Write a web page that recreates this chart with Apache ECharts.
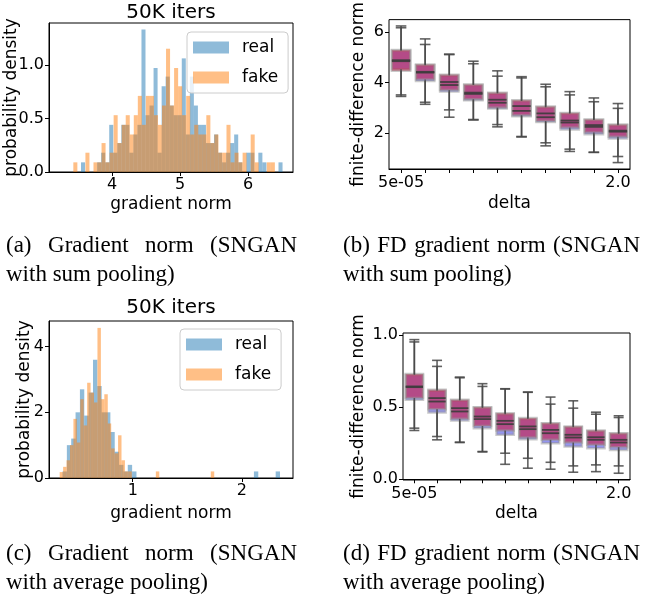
<!DOCTYPE html>
<html>
<head>
<meta charset="utf-8">
<script src="https://cdn.jsdelivr.net/npm/echarts@6/dist/echarts.min.js"></script>
</head>
<body style="margin:0;background:#fff">
<div id="chart" style="width:647px;height:605px"></div>
<script>
// ---- values ----
// (a) gradient norm histogram, sum pooling (density per bin)
var sumRealStart = 3.541, sumFakeStart = 3.428, sumBinWidth = 0.0593;
var sumReal = [0.09,0,0,0,0.09,0.18,0.09,0.44,0.18,0.27,
               0.44,0.44,0.18,0.35,0.44,1.33,0.53,0.62,0.97,0.18,
               0.80,0.89,0.62,0.53,0.53,1.06,0.35,0.89,0.62,0.44,
               0.44,0.27,0.27,0.35,0.18,0.09,0.18,0.27,0.35,0.09,
               0,0.18,0.18,0,0.18,0.09,0,0,0,0.09];
var sumFake = [0.09,0,0,0.18,0,0.09,0.09,0.27,0.09,0.18,
               0.53,0.27,0.44,0.53,0.35,0.53,0.71,0.44,0.71,0.71,
               0.53,0.44,0.62,1.15,0.62,0.97,0.80,0.53,0.71,0.35,
               0.44,0.35,0.35,0.53,0.27,0.35,0.18,0.18,0.44,0.09,
               0.18,0.09,0.18,0,0.35,0.09,0,0,0.09,0.09];

// (c) gradient norm histogram, average pooling
var avgRealStart = 0.356, avgRealWidth = 0.0399;
var avgFakeStart = 0.33, avgFakeWidth = 0.0315;
var avgReal = [0.2,1.0,1.2,2.0,2.7,1.9,2.6,3.6,2.8,2.0,
               2.0,1.4,0.8,0.4,0.2,0.4,0.2,0,0,0,
               0,0,0,0,0,0,0,0,0,0,
               0,0,0,0,0,0,0,0,0,0,
               0,0,0,0,0.2,0,0,0,0,0.2];
var avgFake = [0.18,0.34,0.54,1.0,1.8,1.08,2.4,1.6,2.9,2.6,
               2.3,4.57,2.4,2.55,1.66,0.9,0.75,1.3,0.54,0.2,
               0.2,0,0,0,0,0,0,0,0.2,0,
               0,0,0,0,0,0,0,0,0,0,
               0,0,0,0,0.2];

// (b)/(d) finite-difference norm, [min, q1, median, q3, max] per delta
var deltaTicks = ['5e-05','','','','','','','','','2.0'];
var fdSumRed = [[3.45,4.46,4.88,5.28,6.23],[3.22,4.12,4.42,4.71,5.50],[2.92,3.70,4.02,4.31,5.12],
                [2.54,3.34,3.60,3.92,4.74],[2.25,3.01,3.32,3.60,4.46],[1.87,2.71,3.07,3.30,4.23],
                [1.50,2.48,2.78,3.05,3.83],[1.28,2.22,2.50,2.80,3.64],[1.24,2.03,2.32,2.54,3.39],
                [1.08,1.86,2.10,2.34,3.17]];
var fdSumBlue = [[3.51,4.52,4.84,5.25,6.16],[3.14,4.06,4.39,4.68,5.72],[2.63,3.64,3.90,4.28,5.10],
                 [2.52,3.30,3.55,3.90,4.84],[2.34,2.97,3.20,3.57,4.25],[1.85,2.67,2.88,3.27,4.18],
                 [1.62,2.44,2.63,3.02,3.93],[1.37,2.15,2.42,2.77,3.51],[1.25,1.96,2.25,2.52,3.24],
                 [0.84,1.79,2.06,2.31,2.98]];
var fdAvgRed = [[0.339,0.565,0.645,0.731,0.970],[0.297,0.487,0.564,0.622,0.784],[0.258,0.420,0.494,0.552,0.710],
                [0.193,0.370,0.436,0.501,0.645],[0.181,0.339,0.406,0.459,0.629],[0.146,0.290,0.367,0.425,0.606],
                [0.118,0.274,0.343,0.390,0.522],[0.093,0.255,0.309,0.367,0.494],[0.100,0.239,0.292,0.339,0.466],
                [0.093,0.223,0.274,0.320,0.441]];
var fdAvgBlue = [[0.355,0.552,0.640,0.725,0.954],[0.274,0.464,0.540,0.615,0.826],[0.255,0.408,0.471,0.548,0.705],
                 [0.190,0.355,0.418,0.496,0.664],[0.104,0.309,0.383,0.452,0.627],[0.077,0.278,0.348,0.418,0.604],
                 [0.070,0.251,0.320,0.385,0.571],[0.049,0.227,0.290,0.362,0.545],[0.053,0.216,0.274,0.334,0.452],
                 [0.042,0.204,0.255,0.316,0.429]];

var FONT = 'DejaVu Sans';
var SERIF = 'Liberation Serif';
var BLUE = 'rgba(31,119,180,0.5)', ORANGE = 'rgba(255,127,14,0.5)';

function bins(start, width, heights) {
    return heights.map(function (h, i) {
        return [start + i * width, start + (i + 1) * width, h];
    });
}
function boxRows(rows) {
    return rows.map(function (r, i) { return [i].concat(r); });
}

function renderBar(params, api) {
    var p0 = api.coord([api.value(0), api.value(2)]);
    var p1 = api.coord([api.value(1), 0]);
    return {
        type: 'rect',
        shape: { x: p0[0], y: p0[1], width: p1[0] - p0[0], height: p1[1] - p0[1] },
        style: { fill: api.visual('color') }
    };
}

function boxRender(mode) {
    return function (params, api) {
        var i = api.value(0);
        var lo = api.coord([i, api.value(1)]);
        var q1 = api.coord([i, api.value(2)]);
        var md = api.coord([i, api.value(3)]);
        var q3 = api.coord([i, api.value(4)]);
        var hi = api.coord([i, api.value(5)]);
        var band = api.size([1, 0])[0];
        var cx = md[0];
        if (mode === 'box') {
            var w = band * 0.76;
            return {
                type: 'rect',
                shape: { x: cx - w / 2, y: q3[1], width: w, height: q1[1] - q3[1] },
                style: { fill: api.visual('color'), stroke: 'rgba(150,150,150,0.5)', lineWidth: 2.5 }
            };
        }
        var c = band * 0.22, m = band * 0.38;
        var ls = { stroke: 'rgba(70,70,70,0.85)', lineWidth: 1.6 };
        return {
            type: 'group',
            children: [
                { type: 'line', shape: { x1: cx, y1: q3[1], x2: cx, y2: hi[1] }, style: ls },
                { type: 'line', shape: { x1: cx, y1: q1[1], x2: cx, y2: lo[1] }, style: ls },
                { type: 'line', shape: { x1: cx - c, y1: hi[1], x2: cx + c, y2: hi[1] }, style: ls },
                { type: 'line', shape: { x1: cx - c, y1: lo[1], x2: cx + c, y2: lo[1] }, style: ls },
                { type: 'line', shape: { x1: cx - m, y1: md[1], x2: cx + m, y2: md[1] }, style: { stroke: 'rgba(60,60,60,0.9)', lineWidth: 1.8 } }
            ]
        };
    };
}

var tickFont = { fontSize: 16, fontFamily: FONT, color: '#000' };
var nameFont = { fontSize: 17, fontFamily: FONT, color: '#000' };
var axisLine = { lineStyle: { color: '#000', width: 1 } };
var tickLine = { color: '#000', width: 1 };

function valueAxis(gi, min, max, ticks, digits, name, gap) {
    return {
        type: 'value', gridIndex: gi, min: min, max: max, z: 5,
        name: name, nameLocation: 'middle', nameGap: gap, nameMoveOverlap: false, nameTextStyle: nameFont,
        axisLine: axisLine, splitLine: { show: false },
        axisTick: { show: true, length: 4, lineStyle: tickLine, customValues: ticks },
        axisLabel: Object.assign({ customValues: ticks, margin: 5, formatter: function (v) { return v.toFixed(digits); } }, tickFont)
    };
}
function deltaAxis(gi, gap) {
    return {
        type: 'category', gridIndex: gi, z: 5,
        data: deltaTicks.map(function (t, i) { return String(i); }),
        name: 'delta', nameLocation: 'middle', nameGap: gap, nameMoveOverlap: false, nameTextStyle: nameFont,
        axisLine: axisLine, splitLine: { show: false },
        axisTick: { show: true, alignWithLabel: true, interval: 0, length: 4, lineStyle: tickLine },
        axisLabel: Object.assign({ interval: 0, margin: 6, formatter: function (v, i) { return deltaTicks[i]; } }, tickFont)
    };
}

// captions, line 1 spread to the column width like the justified LaTeX text
var measureCtx = document.createElement('canvas').getContext('2d');
function justify(words, x0, x1, y) {
    measureCtx.font = '23px "' + SERIF + '"';
    var widths = words.map(function (w) { return measureCtx.measureText(w).width; });
    var total = widths.reduce(function (a, b) { return a + b; }, 0);
    var gap = (x1 - x0 - total) / (words.length - 1);
    var x = x0, out = [];
    words.forEach(function (w, i) {
        out.push(textEl(w, x, y, 'left'));
        x += widths[i] + gap;
    });
    return out;
}
function textEl(t, x, y, align, size, family) {
    return {
        type: 'text', x: x, y: y,
        style: {
            text: t, fill: '#000', fontSize: size || 23, fontFamily: family || SERIF,
            align: align, textAlign: align, verticalAlign: 'middle', textVerticalAlign: 'middle'
        }
    };
}

var graphics = []
    .concat(justify(['(a)', 'Gradient', 'norm', '(SNGAN'], 6, 297, 246))
    .concat([textEl('with sum pooling)', 6, 275, 'left')])
    .concat(justify(['(b)', 'FD', 'gradient', 'norm', '(SNGAN'], 343, 640, 246))
    .concat([textEl('with sum pooling)', 343, 275, 'left')])
    .concat(justify(['(c)', 'Gradient', 'norm', '(SNGAN'], 6, 297, 554))
    .concat([textEl('with average pooling)', 6, 583, 'left')])
    .concat(justify(['(d)', 'FD', 'gradient', 'norm', '(SNGAN'], 343, 640, 554))
    .concat([textEl('with average pooling)', 343, 583, 'left')])
    .concat([textEl('50K iters', 171, 13, 'center', 20, FONT), textEl('50K iters', 171, 308, 'center', 20, FONT)]);

function legendAt(left, top) {
    return {
        left: left, top: top, orient: 'vertical', data: ['real', 'fake'], icon: 'rect',
        itemWidth: 36, itemHeight: 12, itemGap: 13, padding: [7, 10, 7, 6],
        borderColor: '#cccccc', borderWidth: 1, borderRadius: 4, backgroundColor: 'rgba(255,255,255,0.8)',
        itemStyle: { borderWidth: 0 }, selectedMode: false,
        textStyle: { fontSize: 17, fontFamily: FONT, color: '#000', padding: [0, 0, 0, 8] }
    };
}

var grid = { show: true, borderColor: '#000', borderWidth: 1, backgroundColor: '#fff' };
var chart = echarts.init(document.getElementById('chart'), null, { renderer: 'canvas' });
chart.setOption({
    animation: false,
    backgroundColor: '#fff',
    grid: [
        Object.assign({ left: 49, top: 23, width: 244, height: 149 }, grid),
        Object.assign({ left: 389, top: 13, width: 241, height: 156 }, grid),
        Object.assign({ left: 49, top: 321, width: 244, height: 157 }, grid),
        Object.assign({ left: 403, top: 333, width: 227, height: 147 }, grid)
    ],
    xAxis: [
        valueAxis(0, 3.07, 6.66, [4, 5, 6], 0, 'gradient norm', 24),
        deltaAxis(1, 26),
        valueAxis(2, 0.232, 2.47, [1, 2], 0, 'gradient norm', 27),
        deltaAxis(3, 25)
    ],
    yAxis: [
        valueAxis(0, 0, 1.39, [0, 0.5, 1.0], 1, 'probability density', 29),
        valueAxis(1, 0.587, 6.48, [2, 4, 6], 0, 'finite-difference norm', 22),
        valueAxis(2, 0, 4.78, [0, 2, 4], 0, 'probability density', 16),
        valueAxis(3, -0.005, 1.016, [0, 0.5, 1.0], 1, 'finite-difference norm', 36)
    ],
    legend: [legendAt(187, 32), legendAt(180, 329)],
    series: [
        { name: 'real', type: 'custom', xAxisIndex: 0, yAxisIndex: 0, renderItem: renderBar, itemStyle: { color: BLUE },
          encode: { x: [0, 1], y: 2 }, data: bins(sumRealStart, sumBinWidth, sumReal) },
        { name: 'fake', type: 'custom', xAxisIndex: 0, yAxisIndex: 0, renderItem: renderBar, itemStyle: { color: ORANGE },
          encode: { x: [0, 1], y: 2 }, data: bins(sumFakeStart, sumBinWidth, sumFake) },
        { name: 'real', type: 'custom', xAxisIndex: 2, yAxisIndex: 2, renderItem: renderBar, itemStyle: { color: BLUE },
          encode: { x: [0, 1], y: 2 }, data: bins(avgRealStart, avgRealWidth, avgReal) },
        { name: 'fake', type: 'custom', xAxisIndex: 2, yAxisIndex: 2, renderItem: renderBar, itemStyle: { color: ORANGE },
          encode: { x: [0, 1], y: 2 }, data: bins(avgFakeStart, avgFakeWidth, avgFake) },

        { type: 'custom', xAxisIndex: 1, yAxisIndex: 1, renderItem: boxRender('box'), itemStyle: { color: 'rgba(60,60,230,0.55)' },
          encode: { x: 0, y: [1, 2, 3, 4, 5] }, data: boxRows(fdSumBlue) },
        { type: 'custom', xAxisIndex: 1, yAxisIndex: 1, renderItem: boxRender('box'), itemStyle: { color: 'rgba(200,30,70,0.62)' },
          encode: { x: 0, y: [1, 2, 3, 4, 5] }, data: boxRows(fdSumRed) },
        { type: 'custom', xAxisIndex: 1, yAxisIndex: 1, renderItem: boxRender('lines'),
          encode: { x: 0, y: [1, 2, 3, 4, 5] }, data: boxRows(fdSumBlue) },
        { type: 'custom', xAxisIndex: 1, yAxisIndex: 1, renderItem: boxRender('lines'),
          encode: { x: 0, y: [1, 2, 3, 4, 5] }, data: boxRows(fdSumRed) },

        { type: 'custom', xAxisIndex: 3, yAxisIndex: 3, renderItem: boxRender('box'), itemStyle: { color: 'rgba(60,60,230,0.55)' },
          encode: { x: 0, y: [1, 2, 3, 4, 5] }, data: boxRows(fdAvgBlue) },
        { type: 'custom', xAxisIndex: 3, yAxisIndex: 3, renderItem: boxRender('box'), itemStyle: { color: 'rgba(200,30,70,0.62)' },
          encode: { x: 0, y: [1, 2, 3, 4, 5] }, data: boxRows(fdAvgRed) },
        { type: 'custom', xAxisIndex: 3, yAxisIndex: 3, renderItem: boxRender('lines'),
          encode: { x: 0, y: [1, 2, 3, 4, 5] }, data: boxRows(fdAvgBlue) },
        { type: 'custom', xAxisIndex: 3, yAxisIndex: 3, renderItem: boxRender('lines'),
          encode: { x: 0, y: [1, 2, 3, 4, 5] }, data: boxRows(fdAvgRed) }
    ],
    graphic: graphics
});
</script>
</body>
</html>
